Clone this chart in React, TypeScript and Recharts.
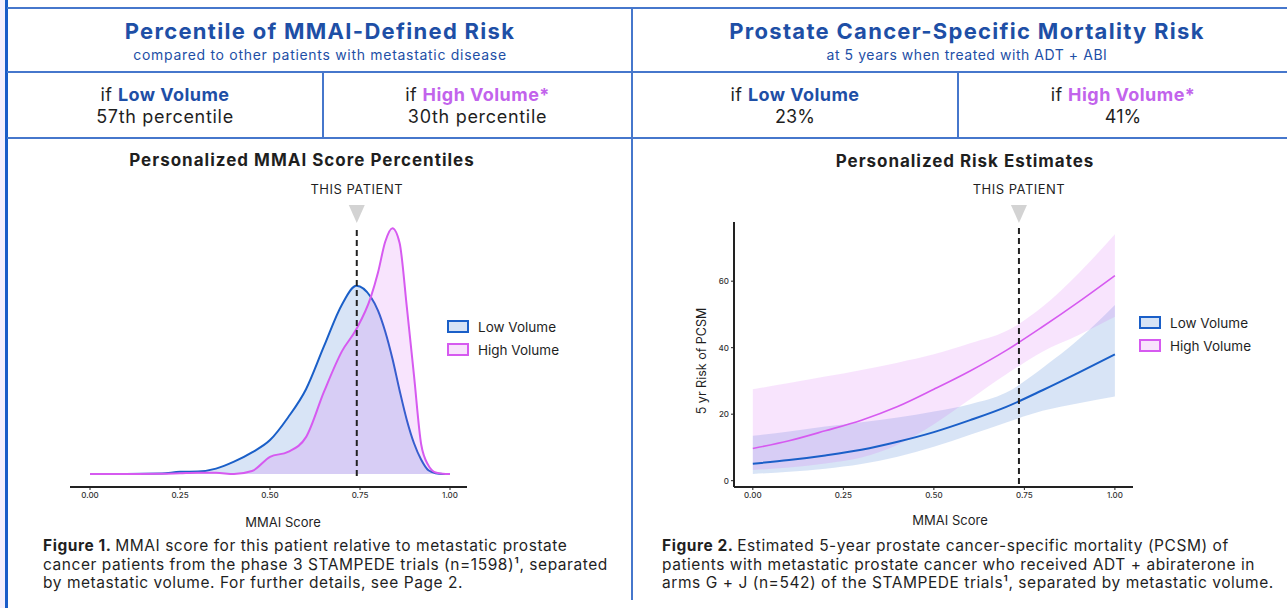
import React from "react";
import {
  AreaChart,
  ComposedChart,
  Area,
  Line,
  XAxis,
  YAxis,
  ReferenceLine,
  ReferenceDot,
} from "recharts";

// Figure 1 - density of MMAI score (arbitrary units, peak = 100)
const densityScores = [
  0, 0.1, 0.2, 0.25, 0.3, 0.35, 0.4, 0.45, 0.5, 0.55, 0.6, 0.65, 0.7, 0.74,
  0.78, 0.8, 0.82, 0.84, 0.86, 0.88, 0.9, 0.92, 0.94, 0.96, 0.98, 1.0,
];
const lowDensity = [
  0, 0, 0.2, 0.9, 1.0, 2.2, 5.0, 8.8, 13.8, 23.0, 34.5, 52, 69, 76.6, 72,
  66.5, 58, 47, 34, 22, 12.5, 5.8, 1.5, 0.3, 0, 0,
];
const highDensity = [
  0, 0, 0.1, 0.3, 0.5, 0.5, 0, 1.2, 7.0, 9.0, 15, 33.5, 50, 59, 72, 82, 94.5,
  100, 94, 68, 40, 12, 3.5, 0.6, 0.1, 0,
];

// Figure 2 - 5 yr risk of PCSM (%)
const riskScores = [0, 0.1, 0.2, 0.3, 0.4, 0.5, 0.6, 0.7, 0.8, 0.9, 1.0];
const lowRisk = [5.1, 6.2, 7.6, 9.3, 11.7, 14.6, 18.2, 22.2, 27.2, 32.5, 38.0];
const lowRiskLower = [2.0, 2.7, 3.6, 5.0, 7.2, 10.2, 13.8, 17.5, 21.0, 23.3, 25.3];
const lowRiskUpper = [13.5, 14.8, 16.3, 17.6, 19.0, 20.8, 23.0, 26.5, 33.9, 42.5, 52.8];
const highRisk = [9.7, 12.0, 15.0, 18.2, 22.3, 27.5, 33.0, 39.2, 46.3, 53.8, 61.7];
const highRiskLower = [3.2, 4.0, 5.2, 7.0, 10.8, 17.0, 24.5, 32.0, 38.8, 43.8, 49.3];
const highRiskUpper = [27.5, 29.4, 31.3, 33.3, 35.5, 38.0, 41.3, 45.0, 52.3, 62.4, 74.1];

const scoreTicks = [0, 0.25, 0.5, 0.75, 1];
const riskTicks = [0, 20, 40, 60];
const patientScoreLeft = 0.741;
const patientScoreRight = 0.735;

const densityData = densityScores.map((score, i) => ({
  score,
  low: lowDensity[i],
  high: highDensity[i],
}));

const riskData = riskScores.map((score, i) => ({
  score,
  low: lowRisk[i],
  high: highRisk[i],
  lowBand: [lowRiskLower[i], lowRiskUpper[i]],
  highBand: [highRiskLower[i], highRiskUpper[i]],
}));

const BLUE = "#1a5fc8";
const PINK = "#d65af0";
const NAVY = "#1e4fa6";
const PURPLE = "#c263ec";
const INK = "#1f1f1f";
const LINE = "#4677cc";
const FONT = "Inter, 'Noto Sans', sans-serif";

const patientMarker = (offset: number) => (props: any) => {
  const { cx, cy } = props;
  const c = cy - offset;
  return (
    <g>
      <polygon
        points={`${cx - 8},${c - 9} ${cx + 8},${c - 9} ${cx},${c + 9}`}
        fill="#d3d3d3"
      />
      <text
        x={cx}
        y={c - 25}
        textAnchor="middle"
        dominantBaseline="central"
        fontSize={13}
        letterSpacing={0.5}
        fill={INK}
        fontFamily={FONT}
      >
        THIS PATIENT
      </text>
    </g>
  );
};

const Legend = ({ left, top }: { left: number; top: number }) => (
  <div style={{ position: "absolute", left, top, fontFamily: FONT, fontSize: 13.5, color: INK }}>
    {[
      { name: "Low Volume", stroke: BLUE, fill: "#d6e3f5" },
      { name: "High Volume", stroke: PINK, fill: "#f8e3fc" },
    ].map((item) => (
      <div key={item.name} style={{ display: "flex", alignItems: "center", height: 23 }}>
        <div
          style={{
            width: 18,
            height: 9,
            border: `2px solid ${item.stroke}`,
            background: item.fill,
            marginRight: 9,
          }}
        />
        <span>{item.name}</span>
      </div>
    ))}
  </div>
);

const hLine = (left: number, top: number, width: number) => (
  <div style={{ position: "absolute", left, top, width, height: 2, background: LINE }} />
);
const vLine = (left: number, top: number, height: number) => (
  <div style={{ position: "absolute", left, top, width: 2, height, background: LINE }} />
);

const Centered = ({ left, width, center, size, lh, ls = 0, children, style }: any) => (
  <div
    style={{
      position: "absolute",
      left,
      width,
      top: center - lh / 2,
      height: lh,
      lineHeight: `${lh}px`,
      fontSize: size,
      letterSpacing: ls,
      textAlign: "center",
      whiteSpace: "nowrap",
      fontFamily: FONT,
      ...style,
    }}
  >
    {children}
  </div>
);

const Caption = ({ left, label, lines }: { left: number; label: string; lines: string[] }) => (
  <div
    style={{
      position: "absolute",
      left,
      top: 537,
      fontFamily: FONT,
      fontSize: 15.5,
      letterSpacing: 0.55,
      lineHeight: "18.7px",
      color: INK,
      whiteSpace: "nowrap",
    }}
  >
    {lines.map((l, i) => (
      <div key={i}>
        {i === 0 && <b style={{ fontWeight: 700 }}>{label} </b>}
        {l}
      </div>
    ))}
  </div>
);

const tickStyle = { fontSize: 8, fill: "#333", fontFamily: FONT, fontWeight: 500 };

export default function App() {
  return (
    <div
      style={{
        position: "absolute",
        left: 0,
        top: 0,
        width: 1287,
        height: 608,
        background: "#fff",
        overflow: "hidden",
        fontFamily: FONT,
      }}
    >
      <div style={{ position: "absolute", left: 0, top: 0, width: 5, height: 608, background: "#f4effd" }} />
      <div style={{ position: "absolute", left: 5, top: 0, width: 3, height: 608, background: "#1a5cc8" }} />
      {hLine(7, 7, 1280)}
      {hLine(7, 71, 1280)}
      {hLine(7, 137, 1280)}
      {vLine(631, 7, 593)}
      {vLine(322, 71, 68)}
      {vLine(957, 71, 68)}

      {/* headers */}
      <Centered left={8} width={624} center={31} size={22} ls={1.3} lh={26} style={{ color: NAVY, fontWeight: 700 }}>
        Percentile of MMAI-Defined Risk
      </Centered>
      <Centered left={8} width={624} center={54.5} size={14} ls={0.7} lh={18} style={{ color: NAVY }}>
        compared to other patients with metastatic disease
      </Centered>
      <Centered left={633} width={668} center={31} size={22} ls={1.3} lh={26} style={{ color: NAVY, fontWeight: 700 }}>
        Prostate Cancer-Specific Mortality Risk
      </Centered>
      <Centered left={633} width={668} center={54.5} size={14} ls={0.55} lh={18} style={{ color: NAVY }}>
        at 5 years when treated with ADT + ABI
      </Centered>

      <Centered left={8} width={314} center={94.5} size={18} ls={0.45} lh={22} style={{ color: INK }}>
        if <b style={{ color: NAVY }}>Low Volume</b>
      </Centered>
      <Centered left={8} width={314} center={116.5} size={18} ls={0.7} lh={22} style={{ color: INK }}>
        57th percentile
      </Centered>
      <Centered left={324} width={307} center={94.5} size={18} ls={0.45} lh={22} style={{ color: INK }}>
        if <b style={{ color: PURPLE }}>High Volume*</b>
      </Centered>
      <Centered left={324} width={307} center={116.5} size={18} ls={0.7} lh={22} style={{ color: INK }}>
        30th percentile
      </Centered>
      <Centered left={633} width={324} center={95} size={18} ls={0.45} lh={22} style={{ color: INK }}>
        if <b style={{ color: NAVY }}>Low Volume</b>
      </Centered>
      <Centered left={633} width={324} center={116.5} size={18} lh={22} style={{ color: INK }}>
        23%
      </Centered>
      <Centered left={959} width={328} center={94.5} size={18} ls={0.45} lh={22} style={{ color: INK }}>
        if <b style={{ color: PURPLE }}>High Volume*</b>
      </Centered>
      <Centered left={959} width={328} center={116.5} size={18} lh={22} style={{ color: INK }}>
        41%
      </Centered>

      {/* chart titles */}
      <Centered left={102} width={400} center={159.5} size={17} ls={1.0} lh={22} style={{ color: INK, fontWeight: 700 }}>
        Personalized MMAI Score Percentiles
      </Centered>
      <Centered left={765} width={400} center={160.5} size={17} ls={0.95} lh={22} style={{ color: INK, fontWeight: 700 }}>
        Personalized Risk Estimates
      </Centered>

      {/* Figure 1 */}
      <div style={{ position: "absolute", left: 20, top: 170 }}>
        <AreaChart
          width={460}
          height={350}
          data={densityData}
          margin={{ top: 44, right: 13, bottom: 3, left: 50 }}
        >
          <XAxis
            dataKey="score"
            type="number"
            domain={[-0.0556, 1.0472]}
            ticks={scoreTicks}
            tickFormatter={(v: number) => v.toFixed(2)}
            axisLine={{ stroke: "#222", strokeWidth: 2 }}
            tickLine={{ stroke: "#222" }}
            tickSize={3}
            tick={tickStyle}
            allowDataOverflow
          />
          <YAxis
            type="number"
            domain={[-5.29, 105.8]}
            width={0}
            tick={false}
            tickLine={false}
            axisLine={{ stroke: "#222", strokeWidth: 2 }}
            allowDataOverflow
          />
          <Area
            type="monotone"
            dataKey="low"
            baseValue={0}
            stroke={BLUE}
            strokeWidth={2}
            fill={BLUE}
            fillOpacity={0.17}
            isAnimationActive={false}
          />
          <Area
            type="monotone"
            dataKey="high"
            baseValue={0}
            stroke={PINK}
            strokeWidth={2}
            fill={PINK}
            fillOpacity={0.16}
            isAnimationActive={false}
          />
          <ReferenceLine
            segment={[
              { x: patientScoreLeft, y: 99.3 },
              { x: patientScoreLeft, y: -2.4 },
            ]}
            stroke="#222"
            strokeWidth={2}
            strokeDasharray="6 4"
            ifOverflow="visible"
          />
          <ReferenceDot
            x={patientScoreLeft}
            y={105.8}
            ifOverflow="visible"
            shape={patientMarker(0)}
          />
        </AreaChart>
      </div>
      <Legend left={447} top={315} />
      <Centered left={233} width={100} center={521.5} size={13} lh={16} style={{ color: INK }}>
        MMAI Score
      </Centered>

      {/* Figure 2 */}
      <div style={{ position: "absolute", left: 650, top: 170 }}>
        <ComposedChart
          width={500}
          height={350}
          data={riskData}
          margin={{ top: 52, right: 17, bottom: 3, left: 44 }}
        >
          <XAxis
            dataKey="score"
            type="number"
            domain={[-0.052, 1.05]}
            ticks={scoreTicks}
            tickFormatter={(v: number) => v.toFixed(2)}
            axisLine={{ stroke: "#222", strokeWidth: 2 }}
            tickLine={{ stroke: "#222" }}
            tickSize={3}
            tick={tickStyle}
            allowDataOverflow
          />
          <YAxis
            type="number"
            domain={[-1.9, 77.8]}
            ticks={riskTicks}
            width={40}
            tickSize={3}
            tick={tickStyle}
            tickLine={{ stroke: "#222" }}
            axisLine={{ stroke: "#222", strokeWidth: 2 }}
            allowDataOverflow
          />
          <Area
            type="monotone"
            dataKey="lowBand"
            stroke="none"
            fill={BLUE}
            fillOpacity={0.17}
            isAnimationActive={false}
          />
          <Area
            type="monotone"
            dataKey="highBand"
            stroke="none"
            fill={PINK}
            fillOpacity={0.16}
            isAnimationActive={false}
          />
          <Line
            type="monotone"
            dataKey="low"
            stroke={BLUE}
            strokeWidth={2}
            dot={false}
            isAnimationActive={false}
          />
          <Line
            type="monotone"
            dataKey="high"
            stroke={PINK}
            strokeWidth={1.6}
            dot={false}
            isAnimationActive={false}
          />
          <ReferenceLine
            segment={[
              { x: patientScoreRight, y: 76.0 },
              { x: patientScoreRight, y: -1.9 },
            ]}
            stroke="#222"
            strokeWidth={2}
            strokeDasharray="6 4"
            ifOverflow="visible"
          />
          <ReferenceDot
            x={patientScoreRight}
            y={77.8}
            ifOverflow="visible"
            shape={patientMarker(8)}
          />
        </ComposedChart>
      </div>
      <Legend left={1139} top={311} />
      <Centered left={900} width={100} center={520} size={13} lh={16} style={{ color: INK }}>
        MMAI Score
      </Centered>
      <div
        style={{
          position: "absolute",
          left: 702 - 60,
          top: 361 - 8,
          width: 120,
          height: 16,
          lineHeight: "16px",
          textAlign: "center",
          fontSize: 12.5,
          color: INK,
          transform: "rotate(-90deg)",
          whiteSpace: "nowrap",
        }}
      >
        5 yr Risk of PCSM
      </div>

      <Caption
        left={43}
        label="Figure 1."
        lines={[
          "MMAI score for this patient relative to metastatic prostate",
          "cancer patients from the phase 3 STAMPEDE trials (n=1598)\u00B9, separated",
          "by metastatic volume. For further details, see Page 2.",
        ]}
      />
      <Caption
        left={662}
        label="Figure 2."
        lines={[
          "Estimated 5-year prostate cancer-specific mortality (PCSM) of",
          "patients with metastatic prostate cancer who received ADT + abiraterone in",
          "arms G + J (n=542) of the STAMPEDE trials\u00B9, separated by metastatic volume.",
        ]}
      />
    </div>
  );
}
